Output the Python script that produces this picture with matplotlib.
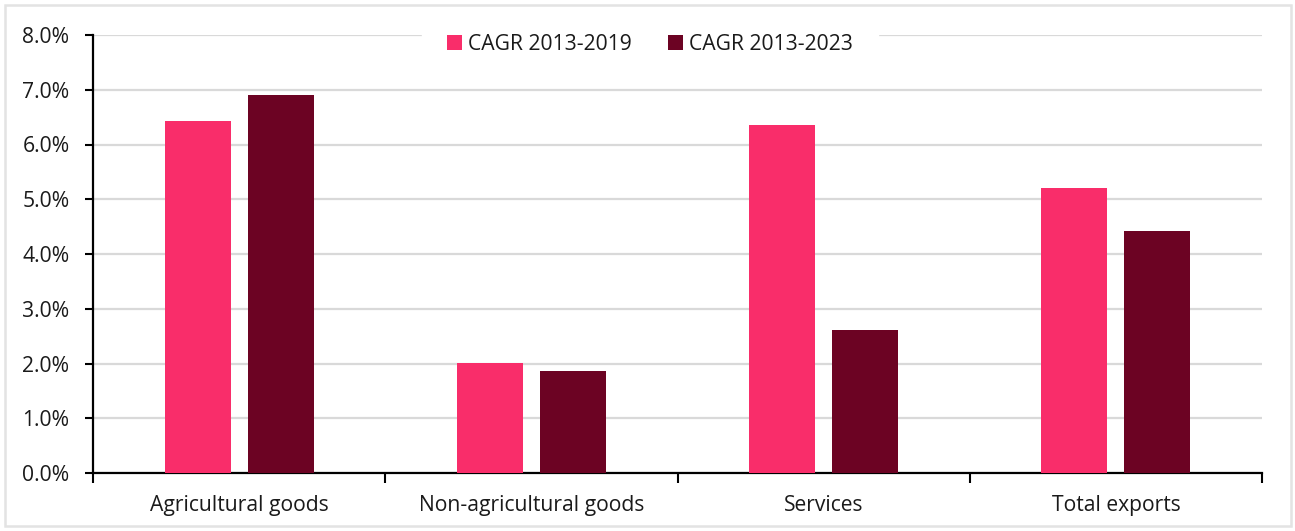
import matplotlib
matplotlib.use("Agg")
import matplotlib.pyplot as plt
import numpy as np
from matplotlib.patches import Rectangle

categories = ["Agricultural goods", "Non-agricultural goods", "Services", "Total exports"]
cagr_2013_2019 = [6.43, 2.01, 6.36, 5.21]
cagr_2013_2023 = [6.90, 1.86, 2.61, 4.42]
series_labels = ["CAGR 2013-2019", "CAGR 2013-2023"]
y_ticks = [0, 1, 2, 3, 4, 5, 6, 7, 8]

PINK = "#F92D6A"
MAROON = "#6C0323"
GRID = "#D9D9D9"
TEXT = "#1A1A1A"
FS = 15.2

plt.rcParams["font.family"] = ["Open Sans", "DejaVu Sans"]

fig = plt.figure(figsize=(12.95, 5.31), dpi=100)
ax = fig.add_axes([93 / 1295, 58 / 531, (1262 - 93) / 1295, (473 - 35) / 531])

# light frame around the whole figure
fig.patches.append(Rectangle((5 / 1295, 5 / 531), 1286 / 1295, 521 / 531,
                             transform=fig.transFigure, fill=False,
                             edgecolor="#E3E3E3", linewidth=1.8, zorder=0))

x = np.arange(len(categories))
width = 0.226
offset = 0.142
ax.bar(x - offset, cagr_2013_2019, width, color=PINK, label=series_labels[0], zorder=3)
ax.bar(x + offset, cagr_2013_2023, width, color=MAROON, label=series_labels[1], zorder=3)

ax.set_xlim(-0.5, len(categories) - 0.5)
ax.set_ylim(0, 8)
ax.set_yticks(y_ticks)
ax.set_yticklabels([f"{v:.1f}%" for v in y_ticks])
ax.yaxis.grid(True, color=GRID, linewidth=1.6, zorder=0)
ax.set_axisbelow(True)

ax.set_xticks(x)
ax.set_xticklabels(categories)
ax.set_xticks(np.arange(-0.5, len(categories)), minor=True)
ax.tick_params(axis="x", which="major", length=0, pad=16, labelsize=FS, labelcolor=TEXT)
ax.tick_params(axis="x", which="minor", length=7, width=1.5, direction="out", color="black")
ax.tick_params(axis="y", length=6, width=1.5, direction="out", pad=11, labelsize=FS,
               labelcolor=TEXT, color="black")

for side in ("top", "right"):
    ax.spines[side].set_visible(False)
for side in ("left", "bottom"):
    ax.spines[side].set_linewidth(1.6)
    ax.spines[side].set_color("black")

leg = fig.legend(loc="center", bbox_to_anchor=(650 / 1295, 1 - 44 / 531), ncol=2,
                 frameon=True, fancybox=False, edgecolor="white", facecolor="white",
                 framealpha=1, fontsize=FS, handlelength=0.7, handleheight=0.7,
                 handletextpad=0.3, columnspacing=1.7, borderpad=1.2, borderaxespad=0)
for t in leg.get_texts():
    t.set_color(TEXT)
leg.set_zorder(5)

fig.savefig("out.png", dpi=100)
